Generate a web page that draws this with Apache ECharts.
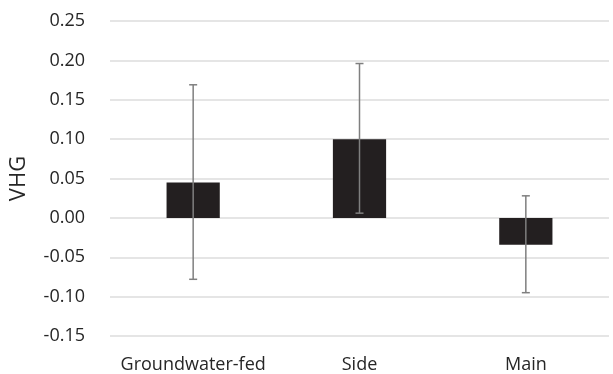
<!DOCTYPE html>
<html>
<head>
<meta charset="utf-8">
<script src="https://cdn.jsdelivr.net/npm/echarts@6/dist/echarts.min.js"></script>
<style>
  html, body { margin: 0; padding: 0; background: #fff; }
  #main { width: 613px; height: 374px; }
</style>
</head>
<body>
<div id="main"></div>
<script>
// data
var categories = ['Groundwater-fed', 'Side', 'Main'];
var means = [0.045, 0.100, -0.034];
var errLow = [-0.078, 0.006, -0.095];
var errHigh = [0.169, 0.196, 0.028];

var errData = categories.map(function (c, i) { return [i, errLow[i], errHigh[i]]; });

var myChart = echarts.init(document.getElementById('main'));
myChart.setOption({
  animation: false,
  textStyle: { fontFamily: 'Open Sans' },
  grid: { left: 109, right: 4, top: 21, bottom: 37 },
  xAxis: {
    type: 'category',
    data: categories,
    axisLine: { show: false },
    axisTick: { show: false },
    axisLabel: { color: '#262626', fontSize: 18, margin: 20, interval: 0 }
  },
  yAxis: {
    type: 'value',
    min: -0.15, max: 0.25, interval: 0.05,
    name: 'VHG',
    nameLocation: 'middle',
    nameGap: 80,
    nameTextStyle: { color: '#262626', fontSize: 22 },
    axisLine: { show: false },
    axisTick: { show: false },
    axisLabel: {
      color: '#262626', fontSize: 18, margin: 25,
      formatter: function (v) { return v.toFixed(2); }
    },
    splitLine: { lineStyle: { color: '#dcdcdc', width: 1.5 } }
  },
  series: [
    {
      type: 'bar',
      data: means,
      barWidth: '32%',
      itemStyle: { color: '#231f20' }
    },
    {
      type: 'custom',
      data: errData,
      z: 10,
      renderItem: function (params, api) {
        var lo = api.coord([api.value(0), api.value(1)]);
        var hi = api.coord([api.value(0), api.value(2)]);
        var cap = 4;
        var st = { stroke: '#7f7f7f', lineWidth: 1.5 };
        return {
          type: 'group',
          children: [
            { type: 'line', shape: { x1: hi[0], y1: hi[1], x2: lo[0], y2: lo[1] }, style: st },
            { type: 'line', shape: { x1: hi[0] - cap, y1: hi[1], x2: hi[0] + cap, y2: hi[1] }, style: st },
            { type: 'line', shape: { x1: lo[0] - cap, y1: lo[1], x2: lo[0] + cap, y2: lo[1] }, style: st }
          ]
        };
      }
    }
  ]
});
</script>
</body>
</html>
